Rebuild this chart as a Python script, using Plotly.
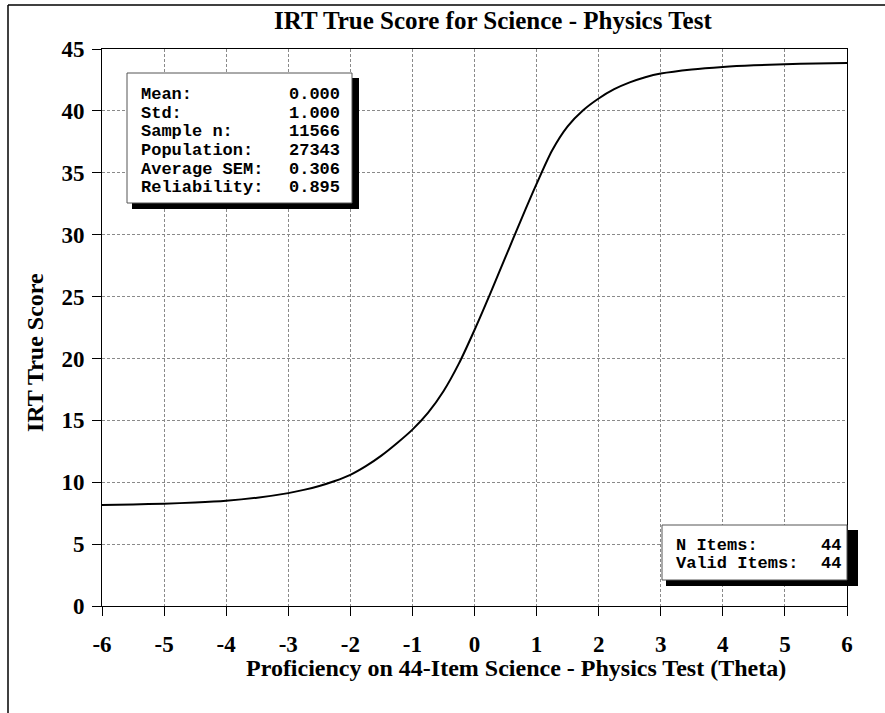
import plotly.graph_objects as go

# Data
theta = [-6, -5.5, -5, -4.5, -4, -3.5, -3, -2.75, -2.5, -2.25, -2, -1.75, -1.5, -1.25, -1, -0.75, -0.5, -0.25,
         0, 0.25, 0.5, 0.75, 1, 1.25, 1.5, 1.75, 2, 2.25, 2.5, 2.75, 3, 3.5, 4, 4.5, 5, 5.5, 6]
true_score = [8.15, 8.2, 8.27, 8.36, 8.5, 8.75, 9.12, 9.38, 9.7, 10.1, 10.6, 11.3, 12.15, 13.15, 14.25, 15.6, 17.35, 19.6,
              22.3, 25.2, 28.2, 31.2, 34.1, 36.8, 38.75, 40.05, 41.0, 41.75, 42.3, 42.72, 43.02, 43.35, 43.55, 43.68, 43.77, 43.83, 43.87]

x_ticks = [-6, -5, -4, -3, -2, -1, 0, 1, 2, 3, 4, 5, 6]
y_ticks = [0, 5, 10, 15, 20, 25, 30, 35, 40, 45]

stats_labels = ["Mean:", "Std:", "Sample n:", "Population:", "Average SEM:", "Reliability:"]
stats_values = ["0.000", "1.000", "11566", "27343", "0.306", "0.895"]
items_labels = ["N Items:", "Valid Items:"]
items_values = ["44", "44"]

title = "IRT True Score for Science - Physics Test"
x_title = "Proficiency on 44-Item Science - Physics Test (Theta)"
y_title = "IRT True Score"

W, H = 885, 713
L, R, T, B = 102, 847, 49, 606


def px(x):
    return (x - L) / (R - L)


def py(y):
    return (B - y) / (B - T)


fig = go.Figure()
fig.add_trace(go.Scatter(x=theta, y=true_score, mode="lines",
                         line=dict(color="black", width=2, shape="spline", smoothing=0.8),
                         showlegend=False, hoverinfo="skip"))

serif = "Liberation Serif"
mono = "Liberation Mono"

axis_common = dict(showline=True, linecolor="black", linewidth=1, mirror=True,
                   ticks="outside", ticklen=9, tickcolor="black", tickwidth=1,
                   showgrid=True, gridcolor="#8a8a8a", gridwidth=1, griddash="3px,2px",
                   zeroline=False,
                   tickfont=dict(family=serif, size=23, color="black", weight="bold"))

fig.update_xaxes(range=[-6, 6], tickvals=x_ticks, ticktext=[str(v) for v in x_ticks],
                 ticklabelstandoff=8, **axis_common)
fig.update_yaxes(range=[0, 45], tickvals=y_ticks, ticktext=[str(v) for v in y_ticks],
                 ticklabelstandoff=3, **axis_common)

shapes = []
# outer frame (left and top)
shapes.append(dict(type="line", xref="paper", yref="paper", x0=px(8), x1=px(8), y0=py(5), y1=py(713),
                   line=dict(color="black", width=1.5)))
shapes.append(dict(type="line", xref="paper", yref="paper", x0=px(8), x1=px(885), y0=py(5), y1=py(5),
                   line=dict(color="black", width=1.5)))


def box(x0, y0, x1, y1, sx0, sy0, sx1, sy1):
    shapes.append(dict(type="rect", xref="paper", yref="paper", x0=px(sx0), x1=px(sx1), y0=py(sy1), y1=py(sy0),
                       fillcolor="black", line=dict(width=0), layer="above"))
    shapes.append(dict(type="rect", xref="paper", yref="paper", x0=px(x0), x1=px(x1), y0=py(y1), y1=py(y0),
                       fillcolor="white", line=dict(color="#555", width=1), layer="above"))


box(127, 73, 352, 203, 132, 78, 359, 209)
box(662, 525, 847, 580, 666, 530, 858, 586)

annotations = []
annotations.append(dict(text="<b>" + title + "</b>", xref="paper", yref="paper", x=px(493), y=py(21),
                        xanchor="center", yanchor="middle", showarrow=False,
                        font=dict(family=serif, size=25, color="black")))
annotations.append(dict(text="<b>" + x_title + "</b>", xref="paper", yref="paper", x=px(516), y=py(668),
                        xanchor="center", yanchor="middle", showarrow=False,
                        font=dict(family=serif, size=24, color="black")))
annotations.append(dict(text="<b>" + y_title + "</b>", xref="paper", yref="paper", x=px(35), y=py(353),
                        xanchor="center", yanchor="middle", showarrow=False, textangle=-90,
                        font=dict(family=serif, size=24, color="black")))

mono_font = dict(family=mono, size=17, color="black")
for i, (lab, val) in enumerate(zip(stats_labels, stats_values)):
    yy = 94.3 + i * 18.7
    annotations.append(dict(text="<b>" + lab + "</b>", xref="paper", yref="paper", x=px(140), y=py(yy),
                            xanchor="left", yanchor="middle", showarrow=False, font=mono_font,
                            borderpad=0))
    annotations.append(dict(text="<b>" + val + "</b>", xref="paper", yref="paper", x=px(341), y=py(yy),
                            xanchor="right", yanchor="middle", showarrow=False, font=mono_font,
                            borderpad=0))
for i, (lab, val) in enumerate(zip(items_labels, items_values)):
    yy = 545 + i * 18.7
    annotations.append(dict(text="<b>" + lab + "</b>", xref="paper", yref="paper", x=px(675), y=py(yy),
                            xanchor="left", yanchor="middle", showarrow=False, font=mono_font,
                            borderpad=0))
    annotations.append(dict(text="<b>" + val + "</b>", xref="paper", yref="paper", x=px(842), y=py(yy),
                            xanchor="right", yanchor="middle", showarrow=False, font=mono_font,
                            borderpad=0))

fig.update_layout(width=W, height=H, margin=dict(l=L, r=W - R, t=T, b=H - B, pad=0),
                  paper_bgcolor="white", plot_bgcolor="white",
                  shapes=shapes, annotations=annotations, showlegend=False)

fig.write_html("out.html", config={"displayModeBar": False})
